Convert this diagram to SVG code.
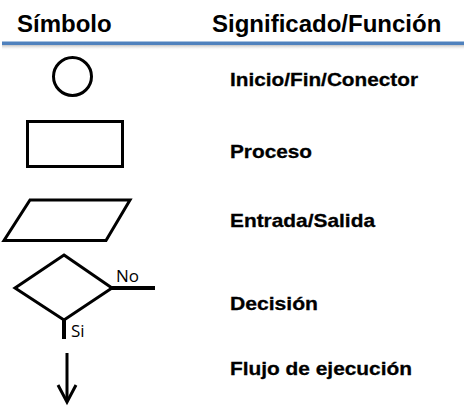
<svg xmlns="http://www.w3.org/2000/svg" width="464" height="412" viewBox="0 0 464 412">
<defs>
<linearGradient id="sh" x1="0" y1="0" x2="0" y2="1">
<stop offset="0" stop-color="#999" stop-opacity="0.7"/>
<stop offset="1" stop-color="#fff" stop-opacity="0"/>
</linearGradient>
<style>
.hd{font-family:"Liberation Sans",Arial,sans-serif;font-weight:bold;font-size:24px;fill:#000}
.lb{font-family:"Liberation Sans",Arial,sans-serif;font-weight:bold;font-size:19px;fill:#000;stroke:#000;stroke-width:0.3}
.sm{font-family:"Open Sans","Liberation Sans",sans-serif;font-size:17px;fill:#000}
.sym{fill:none;stroke:#000;stroke-width:3;stroke-linejoin:miter}
.thick{fill:none;stroke:#000;stroke-width:4}
</style>
</defs>
<rect width="464" height="412" fill="#fff"/>
<g id="header">
<text class="hd" x="17" y="32">Símbolo</text>
<text class="hd" x="212" y="32">Significado/Función</text>
<rect x="2" y="44.5" width="462" height="6" fill="url(#sh)"/>
<rect x="2" y="41.5" width="462" height="3.5" fill="#4F81BD"/>
</g>
<g id="node-circle">
<circle class="sym" cx="72.5" cy="76.5" r="19"/>
<text class="lb" x="230" y="86" textLength="188" lengthAdjust="spacingAndGlyphs">Inicio/Fin/Conector</text>
</g>
<g id="node-process">
<rect class="sym" x="27.5" y="121.5" width="95" height="45"/>
<text class="lb" x="230" y="158" textLength="82" lengthAdjust="spacingAndGlyphs">Proceso</text>
</g>
<g id="node-io">
<polygon class="sym" points="30,200 130,200 106,240.5 4,240.5"/>
<text class="lb" x="230" y="227" textLength="145" lengthAdjust="spacingAndGlyphs">Entrada/Salida</text>
</g>
<g id="node-decision">
<polygon class="sym" points="64,255 112,288 64,320 15,288"/>
<text class="sm" x="116" y="282">No</text>
<text class="sm" x="71" y="337">Si</text>
<text class="lb" x="230" y="310" textLength="88" lengthAdjust="spacingAndGlyphs">Decisión</text>
</g>
<g id="node-flow">
<text class="lb" x="230" y="375" textLength="182" lengthAdjust="spacingAndGlyphs">Flujo de ejecución</text>
</g>
<g id="connectors">
<line class="thick" x1="111" y1="288" x2="155" y2="288"/>
<line class="thick" x1="64" y1="319" x2="64" y2="339"/>
<line class="sym" x1="67" y1="353" x2="67" y2="401"/>
<polyline class="sym" points="58,385 67,402 76,385"/>
</g>
</svg>
